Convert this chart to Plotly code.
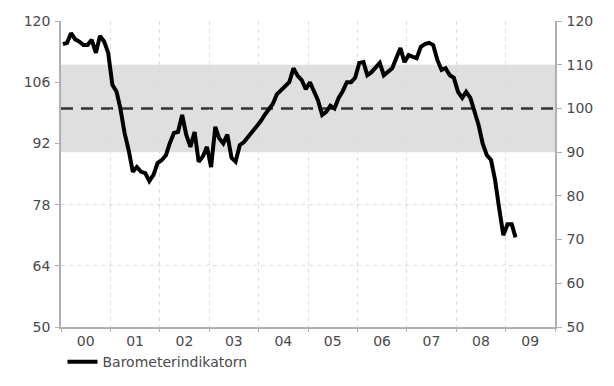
import pandas as pd
import plotly.graph_objects as go

# Monthly Barometerindikatorn, Jan 2000 .. Mar 2009
start_month = "2000-01-01"
barometer = [
    114.7, 115.0, 117.2, 115.8, 115.3, 114.5, 114.5, 115.7, 112.7, 116.6, 115.3, 112.7,
    105.4, 103.8, 100.0, 94.4, 90.5, 85.5, 86.6, 85.5, 85.2, 83.4, 84.8, 87.5,
    88.2, 89.3, 92.0, 94.4, 94.6, 98.5, 94.0, 91.2, 94.6, 87.8, 89.0, 91.2,
    86.6, 95.8, 93.2, 92.0, 94.0, 88.7, 87.8, 91.6, 92.3, 93.5, 94.4, 95.8,
    97.0, 98.5, 99.6, 101.0, 103.2, 104.2, 105.0, 106.0, 109.2, 107.5, 106.5, 104.4,
    106.0, 103.8, 101.9, 98.5, 99.2, 100.6, 100.0, 102.4, 104.0, 106.0, 106.0, 107.0,
    110.4, 110.6, 107.6, 108.3, 109.5, 110.4, 107.6, 108.5, 109.2, 111.5, 113.8, 110.6,
    112.2, 111.8, 111.5, 114.1, 114.7, 115.0, 114.5, 111.1, 108.8, 109.2, 107.6, 107.0,
    103.8, 102.4, 103.8, 102.4, 99.6, 96.2, 92.0, 89.3, 88.2, 83.6, 77.0, 71.0,
    73.5, 73.5, 70.5,
]
dates = pd.date_range(start_month, periods=len(barometer), freq="MS") + pd.Timedelta(days=14)

years = list(range(2000, 2010))
year_labels = ["00", "01", "02", "03", "04", "05", "06", "07", "08", "09"]
left_ticks = [50, 64, 78, 92, 106, 120]
right_ticks = [50, 60, 70, 80, 90, 100, 110, 120]
band_low, band_high = 90, 110
neutral_level = 100
y_range = [50, 120]

FONT = "DejaVu Sans"
FS = 14
TXT = "#4a4a4a"
AX = "#b0b0b0"
GRID = "#dcdcdc"

fig = go.Figure()
fig.add_trace(go.Scatter(
    x=dates, y=barometer, mode="lines", name="Barometerindikatorn",
    line=dict(color="black", width=4),
))
# carrier trace so the right-hand axis is drawn
fig.add_trace(go.Scatter(
    x=[dates[0]], y=[None], yaxis="y2", mode="lines",
    showlegend=False, hoverinfo="skip",
))

fig.add_shape(type="rect", xref="paper", yref="y", x0=0, x1=1,
              y0=band_low, y1=band_high, fillcolor="#dfdfdf", line_width=0,
              layer="between")
fig.add_shape(type="line", xref="paper", yref="y", x0=0, x1=1,
              y0=neutral_level, y1=neutral_level,
              line=dict(color="#333333", width=2.5, dash="12px,8px"),
              layer="between")

fig.update_layout(
    width=614, height=386,
    margin=dict(l=61, r=59, t=21, b=59, autoexpand=False),
    paper_bgcolor="white", plot_bgcolor="white",
    font=dict(family=FONT, size=FS, color=TXT),
    showlegend=True,
    legend=dict(x=0.003, y=-0.115, xanchor="left", yanchor="middle",
                orientation="h", font=dict(size=FS, color=TXT),
                bgcolor="rgba(0,0,0,0)"),
    xaxis=dict(
        type="date",
        range=[f"{years[0]}-01-01", f"{years[-1] + 1}-01-01"],
        tickvals=[f"{y}-07-02" for y in years], ticktext=year_labels,
        ticks="", showgrid=False, zeroline=False,
        showline=True, linecolor=AX, linewidth=1.5,
        tickfont=dict(size=FS, color=TXT),
        minor=dict(tick0="2000-01-01", dtick="M12", showgrid=True,
                   gridcolor=GRID, griddash="4px,4px", gridwidth=1,
                   ticks="outside", ticklen=3, tickcolor=AX),
    ),
    yaxis=dict(
        range=y_range, tickvals=left_ticks,
        showgrid=True, gridcolor=GRID, griddash="4px,4px", gridwidth=1,
        zeroline=False, showline=True, linecolor=AX, linewidth=1.5,
        ticks="outside", ticklen=4, tickcolor=AX,
        tickfont=dict(size=FS, color=TXT), ticklabelstandoff=2,
    ),
    yaxis2=dict(
        range=y_range, tickvals=right_ticks, overlaying="y", side="right",
        showgrid=False, zeroline=False, showline=True, linecolor=AX, linewidth=1.5,
        ticks="outside", ticklen=5, tickcolor=AX,
        tickfont=dict(size=FS, color=TXT), ticklabelstandoff=2,
    ),
)

fig.write_html("out.html", config={"displayModeBar": False},
               post_script="document.body.style.margin='0';")
